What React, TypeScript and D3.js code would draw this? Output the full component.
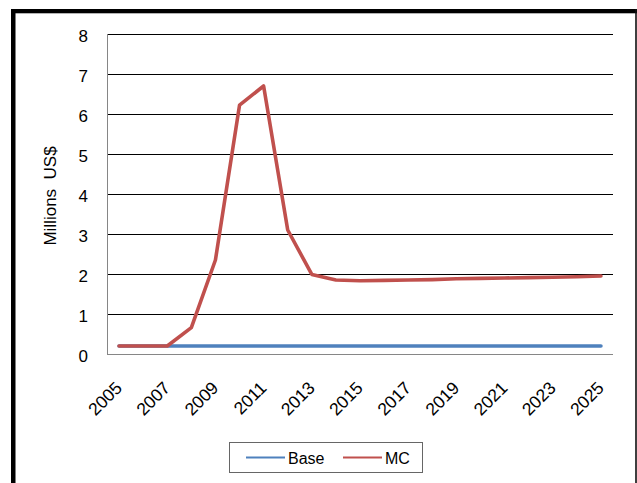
import React from "react";
import * as d3 from "d3";

const years: number[] = d3.range(2005, 2026);
const baseValues: number[] = [0.2,0.2,0.2,0.2,0.2,0.2,0.2,0.2,0.2,0.2,0.2,0.2,0.2,0.2,0.2,0.2,0.2,0.2,0.2,0.2,0.2];
const mcValues: number[] = [0.2,0.2,0.2,0.66,2.35,6.22,6.7,3.1,1.99,1.85,1.83,1.84,1.85,1.86,1.88,1.89,1.9,1.91,1.92,1.93,1.95];
const yTicks: number[] = [0,1,2,3,4,5,6,7,8];
const xTickLabels: number[] = [2005,2007,2009,2011,2013,2015,2017,2019,2021,2023,2025];
const seriesNames: string[] = ["Base", "MC"];
const seriesColors: string[] = ["#4F81BD", "#C0504D"];

const W = 637, H = 483;
const left = 107, right = 613, top = 34, bottom = 354;
const FONT = "'Liberation Sans', Arial, sans-serif";

export default function App() {
  const x = d3.scaleBand<number>().domain(years).range([left, right]);
  const cx = (yr: number) => (x(yr) as number) + x.bandwidth() / 2;
  const y = d3.scaleLinear().domain([0, 8]).range([bottom, top]);
  const line = d3.line<number>().x((_, i) => cx(years[i])).y((v) => y(v));
  const series = [baseValues, mcValues];

  return (
    <svg width={W} height={H} style={{ position: "absolute", left: 0, top: 0, display: "block" }} fontFamily={FONT}>
      <rect x={0} y={0} width={W} height={H} fill="#fff" />
      {/* frame */}
      <rect x={11} y={9} width={626} height={4.3} fill="#000" />
      <rect x={11} y={9} width={4.5} height={H - 9} fill="#000" />
      <rect x={635.2} y={9} width={1.6} height={H - 9} fill="#111" />
      {/* gridlines */}
      {yTicks.filter((t) => t > 0).map((t) => (
        <line key={t} x1={left} x2={right} y1={Math.round(y(t)) + 0.5} y2={Math.round(y(t)) + 0.5} stroke="#000" strokeWidth={1} />
      ))}
      {/* axes */}
      <line x1={left + 0.5} x2={left + 0.5} y1={top} y2={bottom + 1} stroke="#868686" strokeWidth={1} />
      <line x1={left} x2={right} y1={bottom + 0.5} y2={bottom + 0.5} stroke="#868686" strokeWidth={1} />
      {/* y labels */}
      {yTicks.map((t) => (
        <text key={t} x={88} y={y(t) + 7.5} textAnchor="end" fontSize={17} fill="#000">{t}</text>
      ))}
      {/* x labels */}
      {xTickLabels.map((yr) => (
        <text key={yr} transform={`translate(${cx(yr) + 4},${389}) rotate(-45)`} textAnchor="end" fontSize={17.5} fill="#000">{yr}</text>
      ))}
      {/* y title */}
      <text transform={`translate(56,${(top + bottom) / 2 + 2}) rotate(-90)`} textAnchor="middle" fontSize={17} fill="#000" style={{ whiteSpace: "pre" }}>{"Millions  US$"}</text>
      {/* series */}
      {series.map((vals, i) => (
        <path key={i} d={line(vals) as string} fill="none" stroke={seriesColors[i]} strokeWidth={3.6} strokeLinejoin="round" strokeLinecap="round" />
      ))}
      {/* legend */}
      <rect x={229.5} y={442.5} width={193} height={30} fill="#fff" stroke="#666" strokeWidth={1} />
      {seriesNames.map((n, i) => {
        const lx = i === 0 ? 246 : 343;
        return (
          <g key={n}>
            <line x1={lx} x2={lx + 39} y1={457.5} y2={457.5} stroke={seriesColors[i]} strokeWidth={2} />
            <text x={lx + 42} y={463.5} fontSize={16} fill="#000">{n}</text>
          </g>
        );
      })}
    </svg>
  );
}
